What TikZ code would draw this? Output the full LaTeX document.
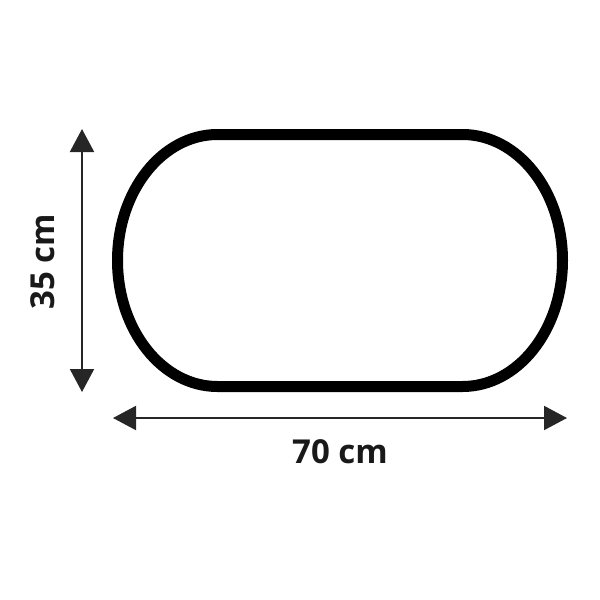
\documentclass[tikz,border=0pt]{standalone}
\usepackage{fontspec}
\setmainfont{Open Sans}
\usetikzlibrary{arrows.meta}
\tikzset{
  dimline/.style={draw=black!85, line width=2pt, {Triangle[length=23pt,width=24pt]}-{Triangle[length=23pt,width=24pt]}},
  dimlabel/.style={inner sep=0pt, font=\fontsize{33}{36}\selectfont\bfseries, text=black!90}
}
\begin{document}
\begin{tikzpicture}[x=1pt, y=-1pt]
    \useasboundingbox (0,0) rectangle (600,600);
    % tray outline
    \draw[line width=11pt] (217.5,134.5) -- (462.5,134.5)
        arc[start angle=-90, end angle=90, x radius=100, y radius=126]
        -- (217.5,386.5)
        arc[start angle=90, end angle=270, x radius=100, y radius=126] -- cycle;
    % dimensions
    \coordinate (htop) at (82,129);
    \coordinate (hbot) at (82,392);
    \coordinate (wleft) at (113,418);
    \coordinate (wright) at (567,418);
    \draw[dimline] (htop) -- (hbot);
    \draw[dimline] (wleft) -- (wright);
    \node[dimlabel, rotate=90] (hlabel) at (43,261.5) {35 cm};
    \node[dimlabel] (wlabel) at (340,451.5) {70 cm};
\end{tikzpicture}
\end{document}
